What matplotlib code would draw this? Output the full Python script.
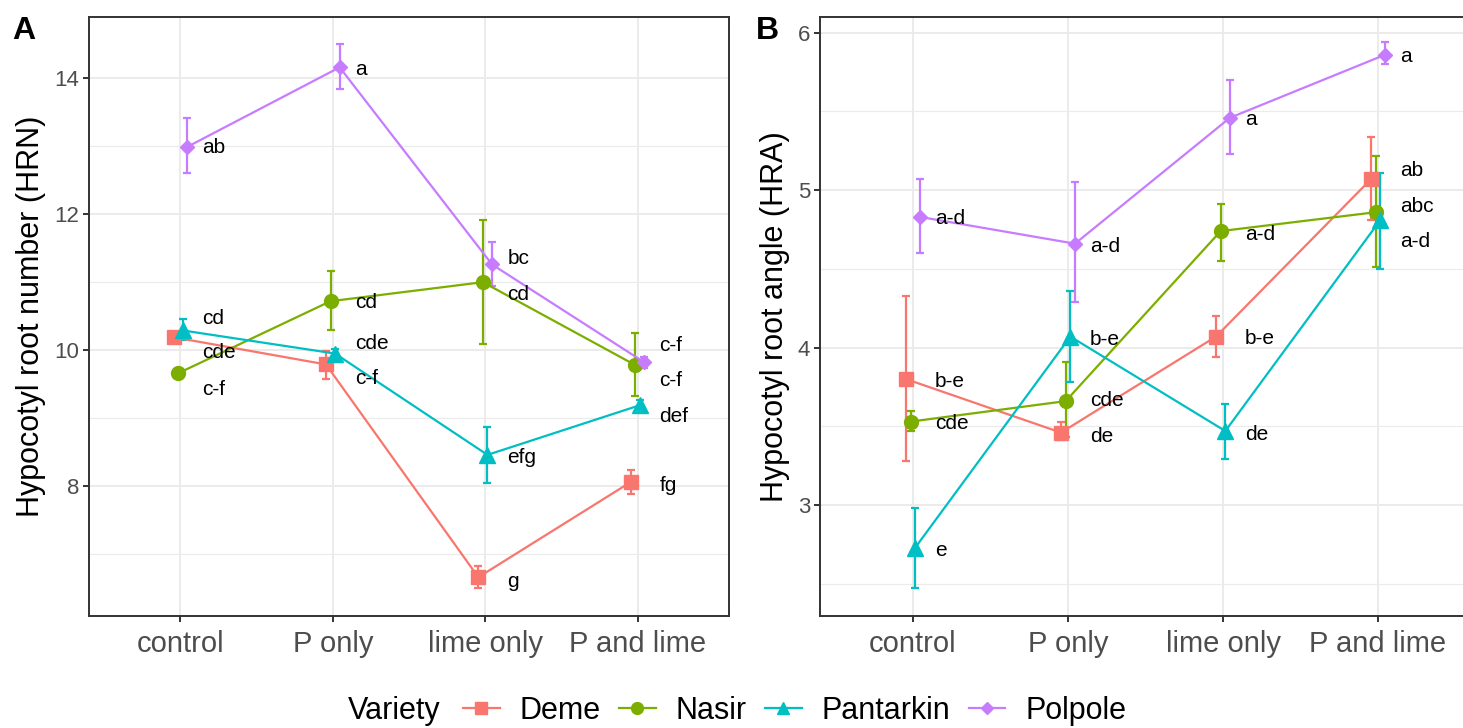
import numpy as np
import matplotlib
matplotlib.use('Agg')
import matplotlib.pyplot as plt
from matplotlib.lines import Line2D

plt.rcParams['font.family'] = ['Liberation Sans', 'DejaVu Sans']

treatments = ['control', 'P only', 'lime only', 'P and lime']
varieties = ['Deme', 'Nasir', 'Pantarkin', 'Polpole']
colors = ['#F8766D', '#7CAE00', '#00BFC4', '#C77CFF']
markers = ['s', 'o', '^', 'D']
msizes = [10, 10, 11, 7]

# panel A : hypocotyl root number
hrn_mean = {
    'Deme':      [10.19, 9.79, 6.66, 8.06],
    'Nasir':     [9.66, 10.72, 11.00, 9.78],
    'Pantarkin': [10.29, 9.95, 8.46, 9.19],
    'Polpole':   [12.99, 14.16, 11.26, 9.82],
}
hrn_lo = {
    'Deme':      [10.13, 9.58, 6.50, 7.88],
    'Nasir':     [9.64, 10.29, 10.09, 9.33],
    'Pantarkin': [10.15, 9.89, 8.04, 9.12],
    'Polpole':   [12.60, 13.84, 10.94, 9.74],
}
hrn_hi = {
    'Deme':      [10.25, 9.99, 6.83, 8.24],
    'Nasir':     [9.68, 11.16, 11.91, 10.25],
    'Pantarkin': [10.46, 10.01, 8.87, 9.26],
    'Polpole':   [13.41, 14.51, 11.59, 9.90],
}
hrn_letters = {
    'Deme':      ['cde', 'c-f', 'g', 'fg'],
    'Nasir':     ['c-f', 'cd', 'cd', 'c-f'],
    'Pantarkin': ['cd', 'cde', 'efg', 'def'],
    'Polpole':   ['ab', 'a', 'bc', 'c-f'],
}

# panel B : hypocotyl root angle
hra_mean = {
    'Deme':      [3.80, 3.46, 4.07, 5.07],
    'Nasir':     [3.53, 3.66, 4.74, 4.86],
    'Pantarkin': [2.73, 4.07, 3.47, 4.81],
    'Polpole':   [4.83, 4.66, 5.46, 5.86],
}
hra_lo = {
    'Deme':      [3.28, 3.41, 3.94, 4.81],
    'Nasir':     [3.47, 3.43, 4.55, 4.51],
    'Pantarkin': [2.47, 3.78, 3.29, 4.50],
    'Polpole':   [4.60, 4.29, 5.23, 5.80],
}
hra_hi = {
    'Deme':      [4.33, 3.53, 4.20, 5.34],
    'Nasir':     [3.60, 3.91, 4.91, 5.22],
    'Pantarkin': [2.98, 4.36, 3.64, 5.11],
    'Polpole':   [5.07, 5.05, 5.70, 5.94],
}
hra_letters = {
    'Deme':      ['b-e', 'de', 'b-e', 'ab'],
    'Nasir':     ['cde', 'cde', 'a-d', 'abc'],
    'Pantarkin': ['e', 'b-e', 'de', 'a-d'],
    'Polpole':   ['a-d', 'a-d', 'a', 'a'],
}

# vertical nudges of the letters (pixels)
nudge_a = {
    'Deme':      [-15, -14, -4, -3],
    'Nasir':     [-16, -1, -12, -15],
    'Pantarkin': [12, 10, -3, -11],
    'Polpole':   [-1, -2, 6, 17],
}
nudge_b = {
    'Deme':      [-2, -4, -2, 9],
    'Nasir':     [-2, 1, -3, 6],
    'Pantarkin': [-3, -3, -3, -21],
    'Polpole':   [-2, -3, -2, -2],
}

dodge = [-0.045, -0.015, 0.015, 0.045]
x = np.arange(1, 5)

fig = plt.figure(figsize=(14.63, 7.28), dpi=100)
W, H = 1463, 728
axA = fig.add_axes([89 / W, 1 - 616 / H, 640 / W, 599 / H])
axB = fig.add_axes([820 / W, 1 - 616 / H, 651 / W, 599 / H])


def draw(ax, mean, lo, hi, letters, nudge, ylim, major, minor, ylabel):
    for v, c, m, ms, d in zip(varieties, colors, markers, msizes, dodge):
        mu = np.array(mean[v])
        err = [mu - np.array(lo[v]), np.array(hi[v]) - mu]
        ax.errorbar(x + d, mu, yerr=err, color=c, marker=m, markersize=ms,
                    lw=1.6, elinewidth=1.6, capsize=3, capthick=1.6, zorder=3)
        for i in range(4):
            ax.annotate(letters[v][i], xy=(x[i], mu[i]), xytext=(22, nudge[v][i]),
                        textcoords='offset pixels', ha='left', va='center',
                        fontsize=15, color='black', zorder=4)
    ax.set_xlim(0.4, 4.6)
    ax.set_ylim(*ylim)
    ax.set_xticks(x)
    ax.set_xticklabels(treatments)
    ax.set_yticks(major)
    ax.set_yticks(minor, minor=True)
    ax.grid(True, which='major', color='#EBEBEB', lw=1.4, zorder=0)
    ax.grid(True, which='minor', axis='y', color='#EBEBEB', lw=0.8, zorder=0)
    ax.set_axisbelow(True)
    ax.tick_params(axis='both', which='major', length=4, width=1.4, color='#333333',
                   labelcolor='#4D4D4D')
    ax.tick_params(axis='x', labelsize=21, pad=6)
    ax.tick_params(axis='y', labelsize=16, pad=3)
    ax.tick_params(which='minor', length=0)
    for s in ax.spines.values():
        s.set_color('#333333')
        s.set_linewidth(1.4)
    ax.set_ylabel(ylabel, fontsize=22, labelpad=6)


draw(axA, hrn_mean, hrn_lo, hrn_hi, hrn_letters, nudge_a, (6.09, 14.9),
     [8, 10, 12, 14], [7, 9, 11, 13], 'Hypocotyl root number (HRN)')
draw(axB, hra_mean, hra_lo, hra_hi, hra_letters, nudge_b, (2.295, 6.1),
     [3, 4, 5, 6], [2.5, 3.5, 4.5, 5.5], 'Hypocotyl root angle (HRA)')

fig.text(12 / W, 1 - 31 / H, 'A', fontsize=23, fontweight='bold', va='center')
fig.text(756 / W, 1 - 31 / H, 'B', fontsize=23, fontweight='bold', va='center')

handles = [Line2D([], [], color=c, marker=m, markersize=ms * 0.85, lw=1.6)
           for c, m, ms in zip(colors, markers, msizes)]
fig.text(348 / W, 1 - 711 / H, 'Variety', fontsize=22, va='center')
fig.legend(handles, varieties, loc='center left', bbox_to_anchor=(463 / W, 1 - 711 / H),
           ncol=4, frameon=False, fontsize=22, handlelength=1.2, handletextpad=0.65,
           columnspacing=0.6, borderpad=0, borderaxespad=0)

fig.savefig('out.png', dpi=100)
